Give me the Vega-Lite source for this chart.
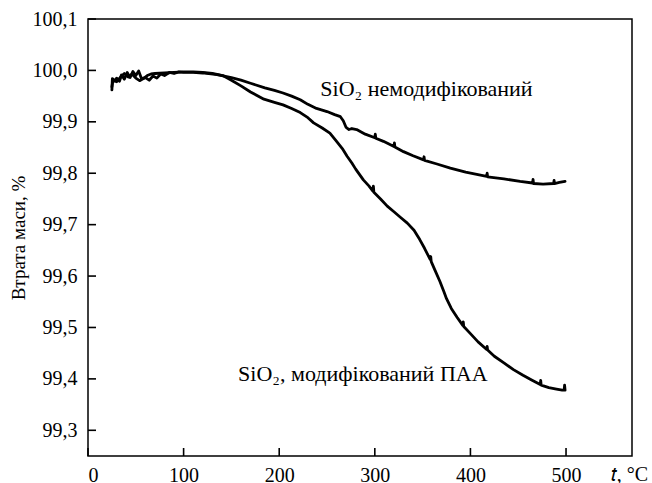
{
  "$schema": "https://vega.github.io/schema/vega-lite/v6.json",
  "width": 544,
  "height": 437,
  "autosize": {"type": "none"},
  "padding": {"left": 88, "top": 19, "right": 20, "bottom": 27},
  "background": "white",
  "config": {
    "view": {"stroke": "black", "strokeWidth": 1.5},
    "axis": {
      "domain": false,
      "grid": false,
      "ticks": false,
      "labelColor": "black",
      "labelFont": "Liberation Serif",
      "labelFontSize": 20,
      "titleColor": "black",
      "titleFont": "Liberation Serif",
      "titleFontSize": 19,
      "titleFontWeight": "normal"
    }
  },
  "datasets": {
    "curves": [
      {"s": "A", "t": 25, "m": 99.962}, {"s": "A", "t": 25.5, "m": 99.984}, {"s": "A", "t": 28, "m": 99.980}, {"s": "A", "t": 30, "m": 99.985}, {"s": "A", "t": 33, "m": 99.979}, {"s": "A", "t": 35, "m": 99.991}, {"s": "A", "t": 38, "m": 99.983}, {"s": "A", "t": 41, "m": 99.996}, {"s": "A", "t": 44, "m": 99.986}, {"s": "A", "t": 47, "m": 99.998}, {"s": "A", "t": 50, "m": 99.990}, {"s": "A", "t": 53, "m": 99.999}, {"s": "A", "t": 56, "m": 99.984}, {"s": "A", "t": 60, "m": 99.986}, {"s": "A", "t": 64, "m": 99.981}, {"s": "A", "t": 68, "m": 99.989}, {"s": "A", "t": 72, "m": 99.985}, {"s": "A", "t": 76, "m": 99.993}, {"s": "A", "t": 80, "m": 99.990}, {"s": "A", "t": 85, "m": 99.996}, {"s": "A", "t": 90, "m": 99.994}, {"s": "A", "t": 95, "m": 99.997}, {"s": "A", "t": 100, "m": 99.996}, {"s": "A", "t": 110, "m": 99.996}, {"s": "A", "t": 120, "m": 99.995}, {"s": "A", "t": 135, "m": 99.992}, {"s": "A", "t": 150, "m": 99.986}, {"s": "A", "t": 160, "m": 99.981}, {"s": "A", "t": 170, "m": 99.975}, {"s": "A", "t": 185, "m": 99.966}, {"s": "A", "t": 195, "m": 99.961}, {"s": "A", "t": 204, "m": 99.956}, {"s": "A", "t": 213, "m": 99.950}, {"s": "A", "t": 222, "m": 99.943}, {"s": "A", "t": 230, "m": 99.934}, {"s": "A", "t": 239, "m": 99.926}, {"s": "A", "t": 250, "m": 99.920}, {"s": "A", "t": 258, "m": 99.914}, {"s": "A", "t": 264, "m": 99.910}, {"s": "A", "t": 267, "m": 99.902}, {"s": "A", "t": 270, "m": 99.889}, {"s": "A", "t": 273, "m": 99.885}, {"s": "A", "t": 276, "m": 99.887}, {"s": "A", "t": 281, "m": 99.885}, {"s": "A", "t": 290, "m": 99.876}, {"s": "A", "t": 300, "m": 99.869}, {"s": "A", "t": 300.5, "m": 99.876}, {"s": "A", "t": 301, "m": 99.868}, {"s": "A", "t": 309, "m": 99.862}, {"s": "A", "t": 320, "m": 99.852}, {"s": "A", "t": 320.5, "m": 99.859}, {"s": "A", "t": 321, "m": 99.851}, {"s": "A", "t": 330, "m": 99.842}, {"s": "A", "t": 340, "m": 99.834}, {"s": "A", "t": 351, "m": 99.826}, {"s": "A", "t": 351.5, "m": 99.832}, {"s": "A", "t": 352, "m": 99.825}, {"s": "A", "t": 365, "m": 99.818}, {"s": "A", "t": 379, "m": 99.810}, {"s": "A", "t": 395, "m": 99.802}, {"s": "A", "t": 417, "m": 99.794}, {"s": "A", "t": 417.5, "m": 99.800}, {"s": "A", "t": 418, "m": 99.793}, {"s": "A", "t": 435, "m": 99.789}, {"s": "A", "t": 452, "m": 99.784}, {"s": "A", "t": 465, "m": 99.781}, {"s": "A", "t": 465.5, "m": 99.788}, {"s": "A", "t": 466, "m": 99.780}, {"s": "A", "t": 476, "m": 99.779}, {"s": "A", "t": 487, "m": 99.780}, {"s": "A", "t": 487.5, "m": 99.786}, {"s": "A", "t": 488, "m": 99.780}, {"s": "A", "t": 493, "m": 99.782}, {"s": "A", "t": 499, "m": 99.784},
      {"s": "B", "t": 25, "m": 99.968}, {"s": "B", "t": 26, "m": 99.980}, {"s": "B", "t": 30, "m": 99.978}, {"s": "B", "t": 34, "m": 99.987}, {"s": "B", "t": 38, "m": 99.994}, {"s": "B", "t": 42, "m": 99.987}, {"s": "B", "t": 46, "m": 99.993}, {"s": "B", "t": 50, "m": 99.985}, {"s": "B", "t": 54, "m": 99.980}, {"s": "B", "t": 58, "m": 99.984}, {"s": "B", "t": 62, "m": 99.990}, {"s": "B", "t": 66, "m": 99.993}, {"s": "B", "t": 70, "m": 99.994}, {"s": "B", "t": 80, "m": 99.995}, {"s": "B", "t": 90, "m": 99.996}, {"s": "B", "t": 100, "m": 99.997}, {"s": "B", "t": 110, "m": 99.997}, {"s": "B", "t": 120, "m": 99.996}, {"s": "B", "t": 130, "m": 99.994}, {"s": "B", "t": 141, "m": 99.990}, {"s": "B", "t": 150, "m": 99.981}, {"s": "B", "t": 160, "m": 99.970}, {"s": "B", "t": 170, "m": 99.958}, {"s": "B", "t": 184, "m": 99.944}, {"s": "B", "t": 195, "m": 99.938}, {"s": "B", "t": 204, "m": 99.933}, {"s": "B", "t": 213, "m": 99.926}, {"s": "B", "t": 222, "m": 99.918}, {"s": "B", "t": 230, "m": 99.908}, {"s": "B", "t": 236, "m": 99.898}, {"s": "B", "t": 245, "m": 99.888}, {"s": "B", "t": 253, "m": 99.878}, {"s": "B", "t": 260, "m": 99.862}, {"s": "B", "t": 266, "m": 99.848}, {"s": "B", "t": 271, "m": 99.833}, {"s": "B", "t": 276, "m": 99.820}, {"s": "B", "t": 280, "m": 99.808}, {"s": "B", "t": 288, "m": 99.787}, {"s": "B", "t": 294, "m": 99.775}, {"s": "B", "t": 298, "m": 99.765}, {"s": "B", "t": 298.5, "m": 99.775}, {"s": "B", "t": 299, "m": 99.763}, {"s": "B", "t": 306, "m": 99.750}, {"s": "B", "t": 313, "m": 99.736}, {"s": "B", "t": 320, "m": 99.725}, {"s": "B", "t": 327, "m": 99.714}, {"s": "B", "t": 334, "m": 99.703}, {"s": "B", "t": 341, "m": 99.689}, {"s": "B", "t": 347, "m": 99.671}, {"s": "B", "t": 352, "m": 99.654}, {"s": "B", "t": 358, "m": 99.632}, {"s": "B", "t": 358.5, "m": 99.638}, {"s": "B", "t": 359, "m": 99.628}, {"s": "B", "t": 363, "m": 99.611}, {"s": "B", "t": 368, "m": 99.590}, {"s": "B", "t": 372, "m": 99.571}, {"s": "B", "t": 375, "m": 99.556}, {"s": "B", "t": 380, "m": 99.537}, {"s": "B", "t": 386, "m": 99.520}, {"s": "B", "t": 392, "m": 99.504}, {"s": "B", "t": 392.5, "m": 99.511}, {"s": "B", "t": 393, "m": 99.502}, {"s": "B", "t": 400, "m": 99.488}, {"s": "B", "t": 408, "m": 99.472}, {"s": "B", "t": 417, "m": 99.457}, {"s": "B", "t": 417.5, "m": 99.463}, {"s": "B", "t": 418, "m": 99.456}, {"s": "B", "t": 425, "m": 99.444}, {"s": "B", "t": 435, "m": 99.431}, {"s": "B", "t": 445, "m": 99.418}, {"s": "B", "t": 455, "m": 99.407}, {"s": "B", "t": 464, "m": 99.398}, {"s": "B", "t": 473, "m": 99.389}, {"s": "B", "t": 473.5, "m": 99.397}, {"s": "B", "t": 474, "m": 99.388}, {"s": "B", "t": 482, "m": 99.383}, {"s": "B", "t": 490, "m": 99.380}, {"s": "B", "t": 496, "m": 99.378}, {"s": "B", "t": 498, "m": 99.378}, {"s": "B", "t": 498.5, "m": 99.388}, {"s": "B", "t": 499, "m": 99.378}
    ],
    "labels": [
      {"t": 243, "m": 99.951, "label": "SiO₂ немодифікований"},
      {"t": 157, "m": 99.395, "label": "SiO₂, модифікований ПАА"}
    ],
    "xticks": [
      {"t": 0, "a": 99.25, "b": 99.2656}, {"t": 100, "a": 99.25, "b": 99.2656}, {"t": 200, "a": 99.25, "b": 99.2656},
      {"t": 300, "a": 99.25, "b": 99.2656}, {"t": 400, "a": 99.25, "b": 99.2656}, {"t": 500, "a": 99.25, "b": 99.2656}
    ],
    "yticks": [
      {"m": 99.3, "a": 0, "b": 8.4}, {"m": 99.4, "a": 0, "b": 8.4}, {"m": 99.5, "a": 0, "b": 8.4}, {"m": 99.6, "a": 0, "b": 8.4}, {"m": 99.7, "a": 0, "b": 8.4},
      {"m": 99.8, "a": 0, "b": 8.4}, {"m": 99.9, "a": 0, "b": 8.4}, {"m": 100.0, "a": 0, "b": 8.4}, {"m": 100.1, "a": 0, "b": 8.4}
    ]
  },
  "layer": [
    {
      "data": {"name": "curves"},
      "mark": {"type": "line", "color": "black", "strokeWidth": 2.8, "strokeJoin": "round", "strokeCap": "round"},
      "encoding": {
        "x": {
          "field": "t", "type": "quantitative",
          "scale": {"domain": [0, 569], "nice": false, "zero": false},
          "axis": {
            "values": [0, 100, 200, 300, 400, 500],
            "labelPadding": 9,
            "title": "𝑡, °C",
            "titleX": 541,
            "titleY": 24,
            "titleFontSize": 20,
            "titleBaseline": "alphabetic",
            "titleAlign": "center",
            "titleAnchor": null
          }
        },
        "y": {
          "field": "m", "type": "quantitative",
          "scale": {"domain": [99.25, 100.1], "nice": false, "zero": false},
          "axis": {
            "values": [99.3, 99.4, 99.5, 99.6, 99.7, 99.8, 99.9, 100.0, 100.1],
            "labelExpr": "replace(format(datum.value, '.1f'), '.', ',')",
            "labelPadding": 11,
            "title": "Втрата маси, %",
            "titlePadding": 4
          }
        },
        "detail": {"field": "s"}
      }
    },
    {
      "data": {"name": "xticks"},
      "mark": {"type": "rule", "stroke": "#000000", "strokeWidth": 1.6, "opacity": 1},
      "encoding": {
        "x": {"field": "t", "type": "quantitative"},
        "y": {"field": "a", "type": "quantitative"},
        "y2": {"field": "b"}
      }
    },
    {
      "data": {"name": "yticks"},
      "mark": {"type": "rule", "stroke": "#000000", "strokeWidth": 1.6, "opacity": 1},
      "encoding": {
        "y": {"field": "m", "type": "quantitative"},
        "x": {"field": "a", "type": "quantitative"},
        "x2": {"field": "b"}
      }
    },
    {
      "data": {"name": "labels"},
      "mark": {"type": "text", "align": "left", "baseline": "alphabetic", "font": "Liberation Serif", "fontSize": 22, "color": "black"},
      "encoding": {
        "x": {"field": "t", "type": "quantitative"},
        "y": {"field": "m", "type": "quantitative"},
        "text": {"field": "label"}
      }
    }
  ]
}
